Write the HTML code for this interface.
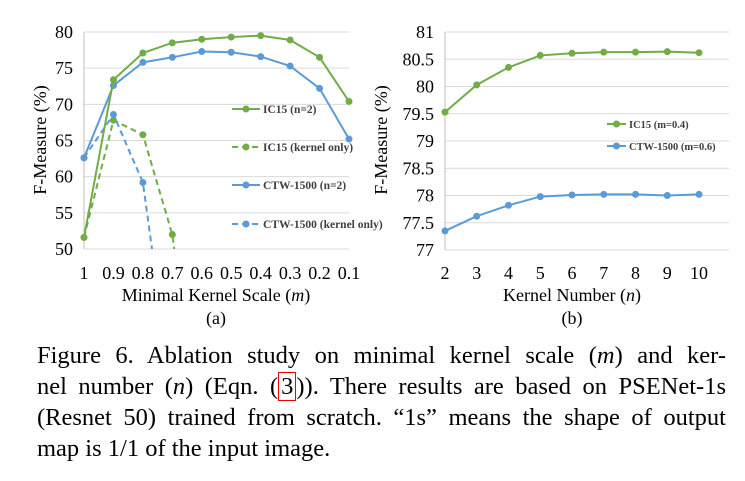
<!DOCTYPE html>
<html><head><meta charset="utf-8"><style>
body{margin:0;background:#fff;width:745px;height:481px;overflow:hidden;font-family:"Liberation Serif",serif}
.cap{position:absolute;left:37px;width:689px;font-size:24.5px;line-height:31px;color:#000}
.cap div{text-align:justify;text-align-last:justify;white-space:nowrap}
.cap div.last{text-align-last:left}
.ref{color:#000;border:1px solid #e00;padding:0 2px}
</style></head><body>
<svg id="chart" width="745" height="330" style="position:absolute;left:0;top:0" font-family="Liberation Serif, serif"></svg>
<div class="cap" style="top:340px">
<div>Figure 6. Ablation study on minimal kernel scale (<i>m</i>) and ker-</div>
<div>nel number (<i>n</i>) (Eqn. (<span class="ref">3</span>)). There results are based on PSENet-1s</div>
<div>(Resnet 50) trained from scratch. “1s” means the shape of output</div>
<div class="last">map is 1/1 of the input image.</div>
</div>
<script>
const catsA=["1","0.9","0.8","0.7","0.6","0.5","0.4","0.3","0.2","0.1"];
const ic15N2=[51.6,73.4,77.1,78.5,79.0,79.3,79.5,78.9,76.5,70.4];
const ctwN2=[62.6,72.6,75.8,76.5,77.3,77.2,76.6,75.3,72.2,65.2];
const ic15Kernel=[51.6,67.8,65.8,52.0,20];
const ctwKernel=[62.6,68.6,59.2,29.5];
const ticksA=[50,55,60,65,70,75,80];
const catsB=[2,3,4,5,6,7,8,9,10];
const ic15B=[79.53,80.03,80.35,80.57,80.61,80.63,80.63,80.64,80.62];
const ctwB=[77.35,77.62,77.82,77.98,78.01,78.02,78.02,78.0,78.02];
const ticksB=[77,77.5,78,78.5,79,79.5,80,80.5,81];
const ticksBLabels=["77","77.5","78","78.5","79","79.5","80","80.5","81"];

const NS="http://www.w3.org/2000/svg";
const svg=document.getElementById('chart');
const G='#70ad47',B='#5b9bd5';
function mk(t,a,p){const e=document.createElementNS(NS,t);for(const k in a)e.setAttribute(k,a[k]);(p||svg).appendChild(e);return e;}
const defs=mk('defs',{});
const cp=mk('clipPath',{id:'clipA'},defs);mk('rect',{x:70,y:20,width:300,height:229},cp);

const ax0=84,ax1=349,ay0=249,ay1=32;
const xA=i=>ax0+i*(ax1-ax0)/(catsA.length-1);
const yA=v=>ay0-(v-50)/30*(ay0-ay1);
const gA=mk('g',{});


ticksA.forEach(t=>{
 const l=mk('line',{x1:ax0,x2:ax1,y1:yA(t),y2:yA(t),stroke:'#d9d9d9','stroke-width':1},gA);
 
 const tx=mk('text',{x:73,y:yA(t)+6,'text-anchor':'end','font-size':18},gA);tx.textContent=t;
 
});
mk('line',{x1:ax0,x2:ax0,y1:ay1,y2:ay0,stroke:'#bfbfbf'},gA);
catsA.forEach((c,i)=>{const tx=mk('text',{x:xA(i),y:279,'text-anchor':'middle','font-size':18},gA);tx.textContent=c;
 });
function series(g,vals,xf,yf,col,dash,name,clip){
 const pts=vals.map((v,i)=>xf(i)+','+yf(v)).join(' ');
 const gg=mk('g',clip?{'clip-path':'url(#clipA)'}:{},g);
 
 mk('polyline',{points:pts,fill:'none',stroke:col,'stroke-width':2,'stroke-dasharray':dash||'none'},gg);
 vals.forEach((v,i)=>{const c=mk('circle',{cx:xf(i),cy:yf(v),r:3.5,fill:col},gg);
  });
}
series(gA,ic15Kernel,xA,yA,G,'6,4','ic15-kernel-only-line',true);
series(gA,ctwKernel,xA,yA,B,'6,4','ctw-kernel-only-line',true);
series(gA,ctwN2,xA,yA,B,null,'ctw-n2-line',false);
series(gA,ic15N2,xA,yA,G,null,'ic15-n2-line',false);
function legend(g,x,y,col,dash,label,w,fs){
 const lg=mk('g',{},g);
 mk('line',{x1:x,x2:x+w,y1:y,y2:y,stroke:col,'stroke-width':2,'stroke-dasharray':dash||'none'},lg);
 mk('circle',{cx:x+w/2,cy:y,r:3.5,fill:col},lg);
 const t=mk('text',{x:x+w+3,y:y+4,'font-size':fs,'font-weight':'bold',fill:'#404040'},lg);t.textContent=label;
}
legend(gA,232,109,G,null,'IC15 (n=2)',28,11.5);
legend(gA,232,147,G,'6,4','IC15 (kernel only)',28,11.5);
legend(gA,232,185,B,null,'CTW-1500 (n=2)',28,11.5);
legend(gA,232,224,B,'6,4','CTW-1500 (kernel only)',28,11.5);
let t=mk('text',{x:0,y:0,'font-size':18,'text-anchor':'middle',transform:'translate(46,140) rotate(-90)'},gA);t.textContent='F-Measure (%)';

t=mk('text',{x:216,y:301,'font-size':18,'text-anchor':'middle'},gA);t.innerHTML='Minimal Kernel Scale (<tspan font-style="italic">m</tspan>)';

t=mk('text',{x:216,y:324,'font-size':18,'text-anchor':'middle'},gA);t.textContent='(a)';


const bx0=445,bx1=699,by0=250,by1=32;
const xB=i=>bx0+(catsB[i]-catsB[0])/(catsB[catsB.length-1]-catsB[0])*(bx1-bx0);
const yB=v=>by0-(v-77)/4*(by0-by1);
const gB=mk('g',{});


ticksB.forEach((tk,i)=>{
 const l=mk('line',{x1:bx0,x2:bx1+30,y1:yB(tk),y2:yB(tk),stroke:'#d9d9d9'},gB);
 
 const tx=mk('text',{x:434,y:yB(tk)+6,'text-anchor':'end','font-size':18},gB);tx.textContent=ticksBLabels[i];
 
});
mk('line',{x1:445,x2:445,y1:by1,y2:by0,stroke:'#bfbfbf'},gB);
catsB.forEach((c,i)=>{const tx=mk('text',{x:xB(i),y:279,'text-anchor':'middle','font-size':18},gB);tx.textContent=c;
 });
series(gB,ic15B,xB,yB,G,null,'ic15-m04-line',false);
series(gB,ctwB,xB,yB,B,null,'ctw-m06-line',false);
legend(gB,607,124,G,null,'IC15 (m=0.4)',19,10.5);
legend(gB,607,146,B,null,'CTW-1500 (m=0.6)',19,10.5);
t=mk('text',{x:0,y:0,'font-size':18,'text-anchor':'middle',transform:'translate(387,140) rotate(-90)'},gB);t.textContent='F-Measure (%)';

t=mk('text',{x:572,y:301,'font-size':18,'text-anchor':'middle'},gB);t.innerHTML='Kernel Number (<tspan font-style="italic">n</tspan>)';

t=mk('text',{x:572,y:324,'font-size':18,'text-anchor':'middle'},gB);t.textContent='(b)';

</script>
</body></html>
